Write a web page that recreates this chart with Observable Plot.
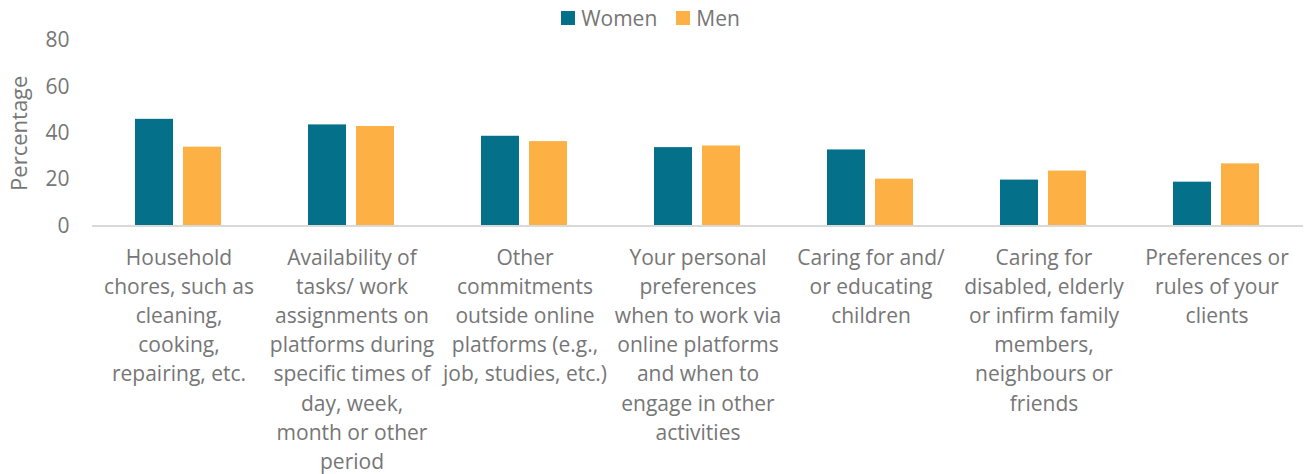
<!DOCTYPE html>
<html>
<head>
<meta charset="utf-8">
<script src="https://cdn.jsdelivr.net/npm/d3@7"></script>
<script src="https://cdn.jsdelivr.net/npm/@observablehq/plot@0.6"></script>
<style>
  html, body { margin: 0; padding: 0; background: #fff; }
  body { width: 1313px; height: 474px; overflow: hidden; font-family: "Open Sans", sans-serif; }
  #legend { height: 26px; display: flex; justify-content: center; align-items: center; gap: 19px; font-size: 21px; color: #767676; padding-right: 12px; box-sizing: border-box; padding-top: 10px;}
  #legend .item { display: flex; align-items: center; gap: 6px; }
  #legend .sw { width: 14px; height: 14px; display: inline-block; }
  svg { overflow: visible; }
</style>
</head>
<body>
<div id="legend"></div>
<div id="chart"></div>
<script>
const categories = [
  "Household\nchores, such as\ncleaning,\ncooking,\nrepairing, etc.",
  "Availability of\ntasks/ work\nassignments on\nplatforms during\nspecific times of\nday, week,\nmonth or other\nperiod",
  "Other\ncommitments\noutside online\nplatforms (e.g.,\njob, studies, etc.)",
  "Your personal\npreferences\nwhen to work via\nonline platforms\nand when to\nengage in other\nactivities",
  "Caring for and/\nor educating\nchildren",
  "Caring for\ndisabled, elderly\nor infirm family\nmembers,\nneighbours or\nfriends",
  "Preferences or\nrules of your\nclients"
];
const series = ["Women", "Men"];
const women = [46.0, 43.6, 38.7, 33.8, 32.8, 19.8, 18.9];
const men   = [34.0, 42.9, 36.4, 34.5, 20.2, 23.7, 26.8];
const yTicks = [0, 20, 40, 60, 80];
const colors = ["#04708A", "#FDB043"];

const data = [];
categories.forEach((c, i) => {
  data.push({category: c, sex: "Women", value: women[i]});
  data.push({category: c, sex: "Men", value: men[i]});
});

const legend = document.getElementById("legend");
series.forEach((s, i) => {
  const it = document.createElement("div");
  it.className = "item";
  it.innerHTML = `<span class="sw" style="background:${colors[i]}"></span><span>${s}</span>`;
  legend.appendChild(it);
});

const chart = Plot.plot({
  width: 1313,
  height: 448,
  marginLeft: 90,
  marginRight: 8,
  marginTop: 14,
  marginBottom: 248.5,
  style: {fontFamily: "Open Sans", fontSize: "21px", color: "#767676", background: "#fff", overflow: "visible"},
  fx: {domain: categories, padding: 0, label: null, axis: null},
  x: {domain: series, paddingInner: 0.204, paddingOuter: 0.873, axis: null},
  y: {domain: [0, 80], ticks: yTicks, label: "Percentage"},
  color: {domain: series, range: colors},
  marks: [
    Plot.axisY({ticks: yTicks, tickSize: 0, tickPadding: 23, fontSize: 21, label: null}),
    Plot.axisY({ticks: [], tickSize: 0, fontSize: 22, label: "Percentage", labelAnchor: "center", labelArrow: "none", labelOffset: 81}),
    Plot.axisFx({anchor: "bottom", tickSize: 0, tickPadding: 18, lineHeight: 1.39, lineAnchor: "top", fontSize: 21, label: null}),
    Plot.barY(data, {fx: "category", x: "sex", y: "value", fill: "sex"}),
    Plot.ruleY([0], {stroke: "#d9d9d9", strokeWidth: 2})
  ]
});
document.getElementById("chart").appendChild(chart);
</script>
</body>
</html>
